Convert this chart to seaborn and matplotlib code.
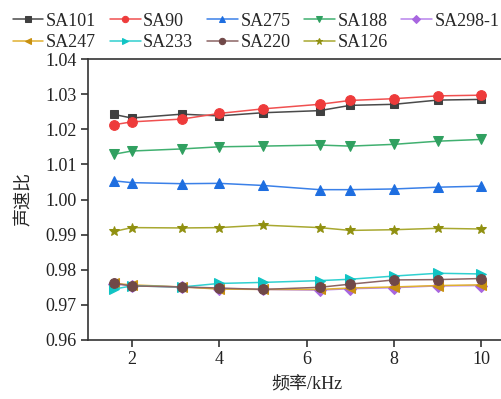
import matplotlib
matplotlib.use("Agg")
import matplotlib.pyplot as plt
import seaborn as sns
import pandas as pd
import numpy as np

freq = [1.6, 2, 3.15, 4, 5, 6.3, 7, 8, 9, 10]
names = ["SA101", "SA90", "SA275", "SA188", "SA298-1", "SA247", "SA233", "SA220", "SA126"]
SA101 = [1.0242, 1.0232, 1.0243, 1.0238, 1.0247, 1.0253, 1.0268, 1.0271, 1.0283, 1.0285]
SA90 = [1.0213, 1.0221, 1.0229, 1.0245, 1.0258, 1.0271, 1.0282, 1.0287, 1.0295, 1.0297]
SA275 = [1.0053, 1.0048, 1.0045, 1.0046, 1.0040, 1.0028, 1.0028, 1.0030, 1.0035, 1.0038]
SA188 = [1.0129, 1.0138, 1.0144, 1.0150, 1.0152, 1.0155, 1.0152, 1.0157, 1.0166, 1.0171]
SA298_1 = [0.9760, 0.9755, 0.9751, 0.9746, 0.9744, 0.9742, 0.9746, 0.9749, 0.9754, 0.9755]
SA247 = [0.9761, 0.9757, 0.9751, 0.9745, 0.9744, 0.9744, 0.9748, 0.9751, 0.9755, 0.9757]
SA233 = [0.9745, 0.9754, 0.9751, 0.9761, 0.9764, 0.9769, 0.9773, 0.9782, 0.9790, 0.9788]
SA220 = [0.9761, 0.9754, 0.9751, 0.9748, 0.9744, 0.9750, 0.9759, 0.9771, 0.9772, 0.9775]
SA126 = [0.9909, 0.9920, 0.9919, 0.9920, 0.9927, 0.9920, 0.9912, 0.9914, 0.9918, 0.9916]
series = [SA101, SA90, SA275, SA188, SA298_1, SA247, SA233, SA220, SA126]

line_colors = ["#4a4a4a", "#f05050", "#3a80e8", "#40b070", "#b884ec", "#e0b030", "#30d0d0", "#8c6464", "#a8a830"]
mark_colors = ["#404040", "#ee3b3b", "#1e6ee0", "#30a060", "#a866e0", "#c89010", "#10c4c4", "#704848", "#909010"]
markers = ["s", "o", "^", "v", "D", "<", ">", "o", "*"]
msizes = [6, 7, 7, 7, 6, 7, 7, 7, 7]

sns.set_theme(style="ticks")
plt.rcParams['font.family'] = ['Liberation Serif', 'Noto Sans CJK SC']
plt.rcParams['axes.unicode_minus'] = False

fig = plt.figure(figsize=(5.01, 3.99), dpi=100)
ax = fig.add_axes([88/501, 1-340/399, (525-88)/501, (340-59)/399])

for name, vals, lc, mc, m, ms in zip(names, series, line_colors, mark_colors, markers, msizes):
    df = pd.DataFrame({"f": freq, "v": vals})
    sns.lineplot(data=df, x="f", y="v", ax=ax, color=lc, marker=m, markersize=ms,
                 markerfacecolor=mc, markeredgecolor=mc, linewidth=1.1, label=name)

ax.set_xlim(1.0, 11.0)
ax.set_ylim(0.96, 1.04)
ax.set_xticks([2, 4, 6, 8, 10])
ax.set_yticks(np.arange(0.96, 1.0401, 0.01))
ax.set_yticklabels([f"{t:.2f}" for t in np.arange(0.96, 1.0401, 0.01)])
ax.tick_params(direction="out", length=5, width=1.1, labelsize=13, colors="#222222", pad=3)
for sp in ax.spines.values():
    sp.set_linewidth(1.2)
    sp.set_color("#333333")
ax.set_xlabel("频率/kHz", fontsize=13, labelpad=6)
ax.set_ylabel("声速比", fontsize=13, labelpad=9)

ax.legend_.remove()
handles, labels = ax.get_legend_handles_labels()
order = [0, 5, 1, 6, 2, 7, 3, 8, 4]
fig.legend([handles[i] for i in order], [labels[i] for i in order], loc="upper left",
           bbox_to_anchor=(0.0, 1.0), ncol=5,
           frameon=False, fontsize=13, handlelength=1.7, handletextpad=0.15,
           columnspacing=0.75, labelspacing=0.25, markerscale=0.65, borderaxespad=0.3)

fig.savefig("out.png", dpi=100)
